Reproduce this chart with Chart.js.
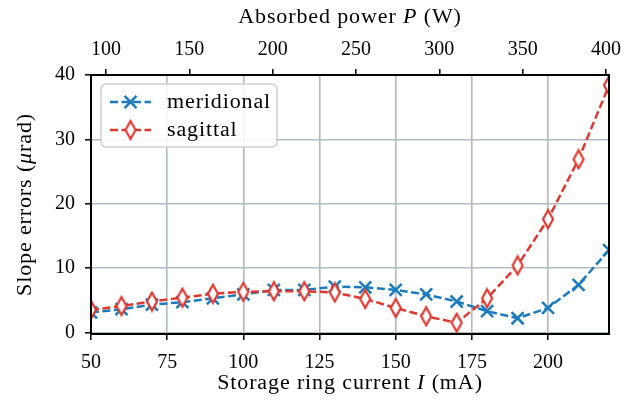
<!DOCTYPE html>
<html>
<head>
<meta charset="utf-8">
<script src="https://cdn.jsdelivr.net/npm/chart.js@4.4.0/dist/chart.umd.min.js"></script>
<style>
  html, body { margin: 0; padding: 0; background: #fff; }
  canvas { display: block; }
</style>
</head>
<body>
<canvas id="c" width="633" height="403"></canvas>
<script>
// Storage ring current (mA) at which slope errors were evaluated
const currentMA = [50, 60, 70, 80, 90, 100, 110, 120, 130, 140, 150, 160, 170, 180, 190, 200, 210, 220];
// Slope errors (µrad)
const meridional = [3.1, 3.6, 4.3, 4.7, 5.3, 5.9, 6.6, 6.6, 7.1, 7.0, 6.6, 5.9, 4.8, 3.3, 2.2, 3.8, 7.4, 12.8];
const sagittal   = [3.5, 4.1, 4.8, 5.4, 6.0, 6.3, 6.4, 6.4, 6.2, 5.2, 3.8, 2.5, 1.5, 5.3, 10.4, 17.6, 26.9, 38.4];
const seriesLabels = ['meridional', 'sagittal'];

// Tick values
const currentTicks = [50, 75, 100, 125, 150, 175, 200];
const powerTicks = [100, 150, 200, 250, 300, 350, 400];
const errorTicks = [0, 10, 20, 30, 40];

// Axis ranges: current (mA), absorbed power (W) over the same span, slope error (µrad)
const currentRange = [50, 220];
const powerRange = [91, 401.8];
const errorRange = [-0.25, 40];

const BLUE = '#1a7bbf';
const RED = '#e0382e';
const GRID = '#b3bbc2';
const FONT_FAMILY = '"Liberation Serif", "DejaVu Serif", serif';
const FONT_SIZE = 20;
// Wider set for running text (titles, legend entries)
const TEXT_STRETCH = 1.1;
const TEXT_SPACING = '0.8px';

// Thin hollow diamond marker
function thinDiamond(color) {
  const c = document.createElement('canvas');
  c.width = 14; c.height = 22;
  const g = c.getContext('2d');
  g.beginPath();
  g.moveTo(7, 2); g.lineTo(12, 11); g.lineTo(7, 20); g.lineTo(2, 11); g.closePath();
  g.fillStyle = '#fff'; g.fill();
  g.lineWidth = 2.2; g.strokeStyle = color; g.lineJoin = 'miter'; g.stroke();
  return c;
}
const diamond = thinDiamond(RED);

function toPoints(ys) { return currentMA.map((x, i) => ({ x: x, y: ys[i] })); }
function fixedTicks(values) { return scale => { scale.ticks = values.map(v => ({ value: v })); }; }

// Draw a line of text made of upright and italic pieces, anchored on (x, y)
function drawRich(ctx, parts, x, y, angle, align) {
  ctx.save();
  ctx.translate(x, y);
  ctx.rotate(angle || 0);
  ctx.scale(TEXT_STRETCH, 1);
  ctx.letterSpacing = TEXT_SPACING;
  ctx.textBaseline = 'middle';
  ctx.textAlign = 'left';
  ctx.fillStyle = '#000';
  let total = 0;
  const widths = parts.map(([t, it]) => {
    ctx.font = (it ? 'italic ' : '') + FONT_SIZE + 'px ' + FONT_FAMILY;
    const w = ctx.measureText(t).width; total += w; return w;
  });
  let cx = align === 'left' ? 0 : -total / 2;
  parts.forEach(([t, it], i) => {
    ctx.font = (it ? 'italic ' : '') + FONT_SIZE + 'px ' + FONT_FAMILY;
    ctx.fillText(t, cx, 0);
    cx += widths[i];
  });
  ctx.restore();
}

const decorations = {
  id: 'decorations',
  afterDraw(chart) {
    const ctx = chart.ctx;
    const a = chart.chartArea;
    const midX = (a.left + a.right) / 2;
    const midY = (a.top + a.bottom) / 2;

    // Frame around the plotting area
    ctx.save();
    ctx.strokeStyle = '#000';
    ctx.lineWidth = 2;
    ctx.strokeRect(a.left, a.top, a.right - a.left, a.bottom - a.top);
    ctx.restore();

    // Axis titles
    drawRich(ctx, [['Storage ring current ', false], ['I', true], [' (mA)', false]], midX, 384);
    drawRich(ctx, [['Absorbed power ', false], ['P', true], [' (W)', false]], midX, 18);
    drawRich(ctx, [['Slope errors (', false], ['\u03bc', true], ['rad)', false]], 26, midY, -Math.PI / 2);

    // Legend
    const box = { x: 101, y: 84, w: 176, h: 63, r: 5 };
    ctx.save();
    ctx.beginPath();
    ctx.roundRect(box.x, box.y, box.w, box.h, box.r);
    ctx.fillStyle = 'rgba(255,255,255,0.85)';
    ctx.fill();
    ctx.strokeStyle = '#cfcfcf';
    ctx.lineWidth = 1.5;
    ctx.stroke();
    ctx.restore();

    const rows = [102, 130];
    chart.data.datasets.forEach((ds, i) => {
      const y = rows[i];
      ctx.save();
      ctx.strokeStyle = ds.borderColor;
      ctx.lineWidth = ds.borderWidth;
      ctx.setLineDash(ds.borderDash);
      ctx.beginPath();
      ctx.moveTo(110, y); ctx.lineTo(151, y);
      ctx.stroke();
      ctx.restore();

      ctx.save();
      ctx.strokeStyle = ds.pointBorderColor;
      ctx.fillStyle = ds.pointBackgroundColor;
      ctx.lineWidth = ds.pointBorderWidth;
      Chart.helpers.drawPoint(ctx, {
        pointStyle: ds.pointStyle, rotation: 0,
        radius: ds.pointRadius, borderWidth: ds.pointBorderWidth
      }, 130.5, y);
      ctx.restore();

      drawRich(ctx, [[ds.label, false]], 167, y + 1, 0, 'left');
    });
  }
};

const tickFont = { family: FONT_FAMILY, size: FONT_SIZE };
const tickGrid = (onArea) => ({
  display: true,
  drawOnChartArea: onArea,
  color: GRID,
  lineWidth: 1.6,
  tickColor: '#000',
  tickWidth: 1.5,
  tickLength: 6
});

new Chart(document.getElementById('c'), {
  type: 'line',
  data: {
    datasets: [
      {
        label: seriesLabels[0],
        data: toPoints(meridional),
        borderColor: BLUE,
        borderWidth: 2.5,
        borderDash: [8, 3.5],
        pointStyle: 'crossRot',
        pointRadius: 8.5,
        pointBorderWidth: 2.5,
        pointBorderColor: BLUE,
        pointBackgroundColor: BLUE,
        tension: 0,
        fill: false,
        clip: 0,
        order: 1
      },
      {
        label: seriesLabels[1],
        data: toPoints(sagittal),
        borderColor: RED,
        borderWidth: 2.5,
        borderDash: [8, 3.5],
        pointStyle: diamond,
        pointRadius: 9,
        pointBorderWidth: 2.2,
        pointBorderColor: RED,
        pointBackgroundColor: '#fff',
        tension: 0,
        fill: false,
        clip: 0,
        order: 0
      }
    ]
  },
  options: {
    responsive: false,
    animation: false,
    events: [],
    devicePixelRatio: 1,
    layout: { padding: { left: 0, right: 24, top: 0, bottom: 0 } },
    plugins: { legend: { display: false }, tooltip: { enabled: false } },
    scales: {
      x: {
        type: 'linear', position: 'bottom',
        min: currentRange[0], max: currentRange[1],
        afterBuildTicks: fixedTicks(currentTicks),
        afterFit: s => { s.height = 69; },
        grid: tickGrid(true),
        border: { display: false },
        ticks: { font: tickFont, color: '#000', padding: 11, maxRotation: 0, autoSkip: false }
      },
      x2: {
        type: 'linear', position: 'top', axis: 'x',
        min: powerRange[0], max: powerRange[1],
        afterBuildTicks: fixedTicks(powerTicks),
        afterFit: s => { s.height = 75; },
        grid: tickGrid(false),
        border: { display: false },
        ticks: { font: tickFont, color: '#000', padding: 7, maxRotation: 0, autoSkip: false }
      },
      y: {
        type: 'linear', position: 'left',
        min: errorRange[0], max: errorRange[1],
        afterBuildTicks: fixedTicks(errorTicks),
        afterFit: s => { s.width = 91; },
        grid: tickGrid(true),
        border: { display: false },
        ticks: { font: tickFont, color: '#000', padding: 10 }
      }
    }
  },
  plugins: [decorations]
});
</script>
</body>
</html>
